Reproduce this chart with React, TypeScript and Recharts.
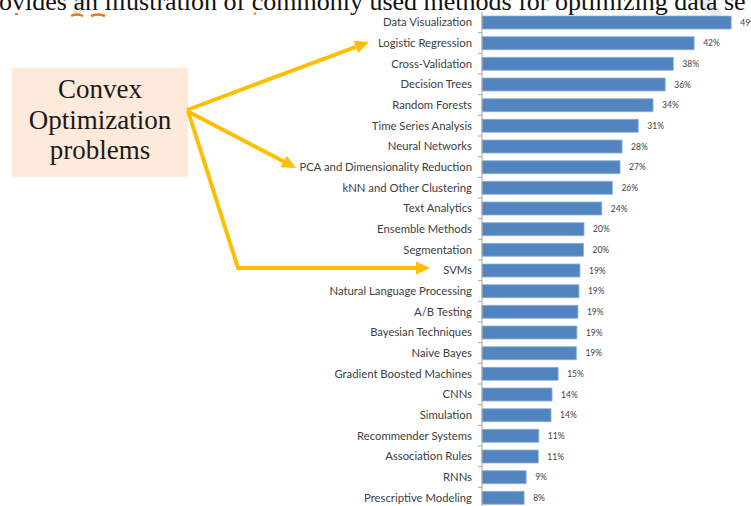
import React from "react";
import { BarChart, Bar, XAxis, YAxis, LabelList } from "recharts";

const categories = [
  "Data Visualization",
  "Logistic Regression",
  "Cross-Validation",
  "Decision Trees",
  "Random Forests",
  "Time Series Analysis",
  "Neural Networks",
  "PCA and Dimensionality Reduction",
  "kNN and Other Clustering",
  "Text Analytics",
  "Ensemble Methods",
  "Segmentation",
  "SVMs",
  "Natural Language Processing",
  "A/B Testing",
  "Bayesian Techniques",
  "Naive Bayes",
  "Gradient Boosted Machines",
  "CNNs",
  "Simulation",
  "Recommender Systems",
  "Association Rules",
  "RNNs",
  "Prescriptive Modeling",
];

const shares = [
  49.1, 41.8, 37.7, 36.1, 33.7, 30.8, 27.6, 27.2, 25.7, 23.6, 20.1, 20.0, 19.3,
  19.1, 18.9, 18.7, 18.6, 15.0, 13.8, 13.6, 11.2, 11.1, 8.7, 8.3,
];

const headerText =
  "ovides an illustration of commonly used methods for optimizing data se";
const boxLines = ["Convex", "Optimization", "problems"];

const data = categories.map((name, i) => ({ name, value: shares[i] }));

const W = 751;
const H = 508;
const TOP = 12;
const AXIS_X = 482;
const BAND = (H - TOP) / categories.length;

const YTick = (props: any) => {
  const { y, payload } = props;
  return (
    <g>
      <text
        x={AXIS_X - 10}
        y={y}
        dy={4}
        textAnchor="end"
        fontSize={11.3}
        fontFamily="Lato"
        fill="#404040"
      >
        {payload.value}
      </text>
      <line
        x1={AXIS_X - 4}
        x2={AXIS_X}
        y1={y + BAND / 2}
        y2={y + BAND / 2}
        stroke="#A6A6A6"
        strokeWidth={1}
      />
    </g>
  );
};

const ORANGE = "#FFBF00";

function arrowHead(x1: number, y1: number, x2: number, y2: number) {
  const len = 14;
  const hw = 6.5;
  const dx = x2 - x1;
  const dy = y2 - y1;
  const d = Math.sqrt(dx * dx + dy * dy);
  const ux = dx / d;
  const uy = dy / d;
  const bx = x2 - ux * len;
  const by = y2 - uy * len;
  const px = -uy;
  const py = ux;
  return {
    base: [bx, by],
    pts: `${x2},${y2} ${bx + px * hw},${by + py * hw} ${bx - px * hw},${by - py * hw}`,
  };
}

const Arrow = ({ pts }: { pts: number[][] }) => {
  const n = pts.length;
  const [ax, ay] = pts[n - 2];
  const [tx, ty] = pts[n - 1];
  const h = arrowHead(ax, ay, tx, ty);
  const line = pts
    .slice(0, n - 1)
    .concat([h.base])
    .map((p) => p.join(","))
    .join(" ");
  return (
    <g>
      <polyline
        points={line}
        fill="none"
        stroke={ORANGE}
        strokeWidth={4}
        strokeLinejoin="miter"
      />
      <polygon points={h.pts} fill={ORANGE} />
    </g>
  );
};

export default function App() {
  return (
    <div
      style={{
        position: "absolute",
        left: 0,
        top: 0,
        width: W,
        height: 506,
        overflow: "hidden",
        background: "#fff",
      }}
    >
      <svg
        width={W}
        height={506}
        style={{ position: "absolute", left: 0, top: 0 }}
      >
        <polygon points="74,0 86,0 80,16 72,16" fill="#E6EBEF" />
        <polygon points="694,0 712,0 722,14 712,18" fill="#E6EBEF" />
      </svg>
      <div style={{ position: "absolute", left: 0, top: 0 }}>
        <BarChart
          width={W}
          height={H}
          data={data}
          layout="vertical"
          margin={{ top: TOP, right: 0, bottom: 0, left: 0 }}
        >
          <XAxis type="number" domain={[0, 53]} hide />
          <YAxis
            type="category"
            dataKey="name"
            width={AXIS_X}
            interval={0}
            tickLine={false}
            axisLine={{ stroke: "#A6A6A6" }}
            tick={<YTick />}
          />
          <Bar
            dataKey="value"
            fill="#5285C0"
            stroke="#8FB0DA"
            strokeWidth={0.8}
            barSize={13}
            isAnimationActive={false}
          >
            <LabelList
              dataKey="value"
              position="right"
              offset={9}
              fontSize={8.5}
              fontFamily="Lato"
              fill="#404040"
              formatter={(v: any) => `${Math.round(Number(v))}%`}
            />
          </Bar>
        </BarChart>
      </div>
      <svg
        width={W}
        height={506}
        style={{ position: "absolute", left: 0, top: 0, pointerEvents: "none" }}
      >
        <text
          x={-1}
          y={9.5}
          fontSize={26}
          fontFamily="Liberation Serif"
          fill="#111"
        >
          {headerText}
        </text>
        <path d="M15,14 l3,0" stroke="#F07800" strokeWidth={2} fill="none" />
        <path d="M71,16 q6,-3 12,0" stroke="#F07800" strokeWidth={2.5} fill="none" />
        <path d="M91,16 q7,-3 14,0" stroke="#F07800" strokeWidth={2.5} fill="none" />
        <path d="M254,14 l2,-1" stroke="#F07800" strokeWidth={2} fill="none" />
        <rect x={12} y={68} width={176} height={109} fill="#FDEADA" />
        {boxLines.map((t, i) => (
          <text
            key={t}
            x={100}
            y={98 + i * 30.5}
            textAnchor="middle"
            fontSize={27}
            fontFamily="Liberation Serif"
            fill="#1a1a1a"
          >
            {t}
          </text>
        ))}
        <Arrow pts={[[187, 110], [369, 42]]} />
        <Arrow pts={[[187, 111], [296, 168]]} />
        <Arrow pts={[[188, 111], [238, 268], [430, 268]]} />
      </svg>
    </div>
  );
}
